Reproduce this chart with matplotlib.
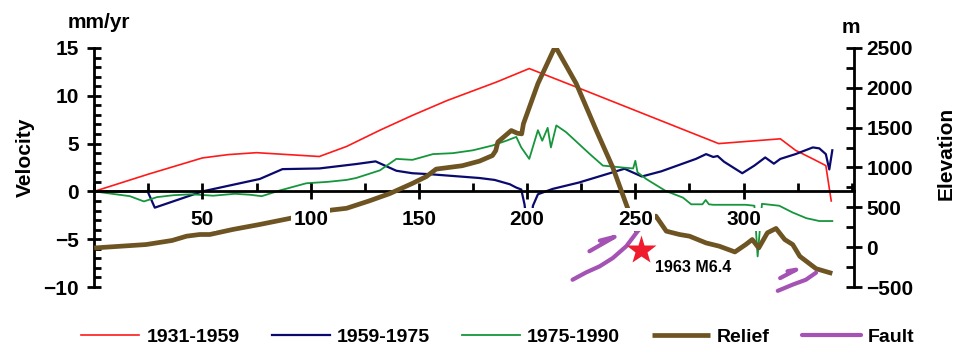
import matplotlib
matplotlib.use("Agg")
import matplotlib.pyplot as plt
from matplotlib.ticker import MultipleLocator
from matplotlib.transforms import blended_transform_factory

plt.rcParams['font.family'] = ['Liberation Sans', 'DejaVu Sans']
plt.rcParams['font.weight'] = 'bold'

# velocity profiles (mm/yr) along distance (km)
red_x = [0, 25, 50, 62, 75, 104, 116.6, 132, 147, 163, 186, 201, 224, 288.5, 317, 324, 332, 338, 340.5]
red_v = [0, 1.8, 3.5, 3.85, 4.05, 3.65, 4.7, 6.4, 7.95, 9.5, 11.45, 12.85, 10.8, 5.0, 5.5, 4.3, 3.4, 2.7, -1.0]

blue_x = [0, 24.7, 28, 50, 76.5, 87, 104, 121, 130, 139.6, 147, 155, 178, 185, 192, 195, 197.3, 198.8,
          199.5, 202.2, 202.7, 205, 211.8, 224, 245, 253, 262, 270, 278, 282.7, 286, 288, 291, 299.4,
          305, 310, 314, 317, 324, 332, 335, 338, 339.6, 341]
blue_v = [0, 0, -1.7, 0, 1.3, 2.33, 2.4, 2.86, 3.14, 2.16, 1.9, 1.8, 1.4, 1.2, 0.75, 0.4, 0.2, -1.35,
          -2.6, -2.6, -1.5, -0.3, 0.26, 0.93, 2.37, 1.56, 2.1, 2.75, 3.4, 3.9, 3.6, 3.7, 3.1, 1.9,
          2.7, 3.55, 2.9, 3.4, 3.9, 4.6, 4.5, 3.9, 2.3, 4.3]

green_x = [0, 16.5, 23, 29, 36.6, 45, 55, 65, 72, 77.4, 85.8, 98, 108, 116.6, 121, 132, 139.6, 147,
           156.5, 165.7, 175, 184, 190.4, 195, 197.3, 201, 205, 207, 209.5, 211, 213.5, 218, 229, 235,
           244, 249, 250, 251, 255, 264, 272, 275.8, 281, 282.5, 284, 286, 301, 305, 306.5, 308.5,
           310.5, 316.5, 322.6, 329, 335, 341]
green_v = [0, -0.5, -1.05, -0.6, -0.4, -0.3, -0.45, -0.25, -0.35, -0.5, 0.1, 0.85, 1.0, 1.2, 1.4, 2.2,
           3.4, 3.3, 3.9, 4.0, 4.3, 4.8, 5.3, 5.7, 4.6, 3.4, 6.4, 5.3, 6.65, 4.6, 6.9, 6.2, 3.9, 2.7,
           2.5, 2.4, 3.2, 2.0, 1.3, 0.05, -0.65, -1.35, -1.35, -0.9, -1.35, -1.4, -1.4, -1.5, -6.8, -1.3,
           -1.35, -1.5, -2.2, -2.8, -3.1, -3.1]

# topographic relief (m)
relief_x = [0, 24, 36, 42.7, 48.8, 53.4, 64, 76.5, 90.4, 109.6, 116.6, 127, 136.5, 147, 153.5, 158,
            170, 178, 184, 185.5, 186.5, 192.7, 195.5, 197.5, 198.3, 205, 213, 222.7, 232, 239.6,
            245.8, 250.5, 259.5, 264.3, 270.4, 275, 282.7, 288.8, 296, 301, 304, 307, 308.8, 311,
            315, 319, 322.7, 326, 333.5, 341]
relief_m = [-10, 33, 84, 138, 159, 159, 222, 285, 361, 466, 488, 580, 672, 800, 887, 980, 1022, 1080,
            1150, 1211, 1320, 1464, 1430, 1422, 1548, 2053, 2520, 2053, 1464, 1000, 538, 200, 390,
            201, 159, 138, 53, 12, -60, 33, 96, -10, 75, 180, 235, 96, 33, -115, -270, -330]

# fault traces (distance, velocity-axis units)
faults = [
    ([221.0, 227.3, 233.5, 239.6, 245.8, 251.9], [-9.24, -8.47, -7.84, -6.97, -5.74, -3.92]),
    ([228.8, 240.4, 233.6], [-6.26, -4.76, -5.15]),
    ([315.8, 322.7, 328.8, 333.5], [-10.4, -9.75, -9.24, -8.5]),
    ([316.9, 324.3, 320.3], [-9.07, -8.19, -8.35]),
]

quake_x, quake_v = 252.7, -6.1
quake_label = "1963 M6.4"

fig = plt.figure(figsize=(9.55, 3.47), dpi=100)
ax = fig.add_axes([0.0986, 0.1729, 0.7956, 0.6888])
ax2 = ax.twinx()

ax.set_xlim(0, 351)
ax.set_ylim(-10, 15)
ax2.set_ylim(-500, 2500)

ax.plot(red_x, red_v, color='#ff1a1a', lw=1.2, label='1931-1959', zorder=2)
ax.plot(blue_x, blue_v, color='#0a0a6e', lw=1.6, label='1959-1975', zorder=2)
ax.plot(green_x, green_v, color='#16963c', lw=1.3, label='1975-1990', zorder=2)

# relief is drawn against the elevation scale of the twin axis
tr = blended_transform_factory(ax.transData, ax2.transData)
ax.plot(relief_x, relief_m, color='#6e5422', lw=3.4, transform=tr, label='Relief', zorder=3,
        solid_capstyle='butt')

for i, (fx, fv) in enumerate(faults):
    ax.plot(fx, fv, color='#a552b5', lw=3.0, clip_on=False, zorder=3,
            solid_capstyle='round', label='Fault' if i == 0 else None)

ax.plot([quake_x], [quake_v], marker='*', ms=22, color='#ee1c2c', mec='none', zorder=4, clip_on=False)
ax.text(quake_x + 6.6, quake_v - 1.9, quake_label, fontsize=11.5, ha='left', va='center')

# spines: left velocity axis, right elevation axis, x axis through zero
for s in ['top', 'right']:
    ax.spines[s].set_visible(False)
ax.spines['bottom'].set_position(('data', 0))
for s in ['top', 'bottom', 'left']:
    ax2.spines[s].set_visible(False)
for sp in [ax.spines['left'], ax.spines['bottom'], ax2.spines['right']]:
    sp.set_linewidth(2)

ax.set_xticks([50, 100, 150, 200, 250, 300])
ax.xaxis.set_minor_locator(MultipleLocator(25))
ax.set_yticks([-10, -5, 0, 5, 10, 15])
ax.yaxis.set_minor_locator(MultipleLocator(1))
ax2.set_yticks([-500, 0, 500, 1000, 1500, 2000, 2500])
ax2.yaxis.set_minor_locator(MultipleLocator(250))

ax.tick_params(axis='x', which='major', direction='inout', length=11, width=2, pad=8, labelsize=15)
ax.tick_params(axis='x', which='minor', direction='in', length=6, width=2)
ax.tick_params(axis='y', which='major', direction='inout', length=10, width=2, pad=6, labelsize=15)
ax.tick_params(axis='y', which='minor', direction='in', length=5, width=2)
ax2.tick_params(axis='y', which='major', direction='inout', length=12, width=2, pad=3, labelsize=15)
ax2.tick_params(axis='y', which='minor', direction='in', length=6, width=2)

for lbl in ax.get_xticklabels():
    lbl.set_bbox(dict(facecolor='white', edgecolor='none', pad=1.5))
ax.xaxis.set_zorder(5)

fig.text(0.1037, 0.934, 'mm/yr', fontsize=15, ha='center', va='center')
fig.text(0.0262, 0.548, 'Velocity', fontsize=15, rotation=90, ha='center', va='center')
fig.text(0.891, 0.922, 'm', fontsize=15, ha='center', va='center')
fig.text(0.9905, 0.559, 'Elevation', fontsize=15, rotation=90, ha='center', va='center')

fig.legend(loc='center', bbox_to_anchor=(0.521, 0.029), ncol=5, frameon=False, fontsize=14,
           handlelength=3.0, handletextpad=0.35, columnspacing=1.65)

fig.savefig('out.png', dpi=100, facecolor='white')
